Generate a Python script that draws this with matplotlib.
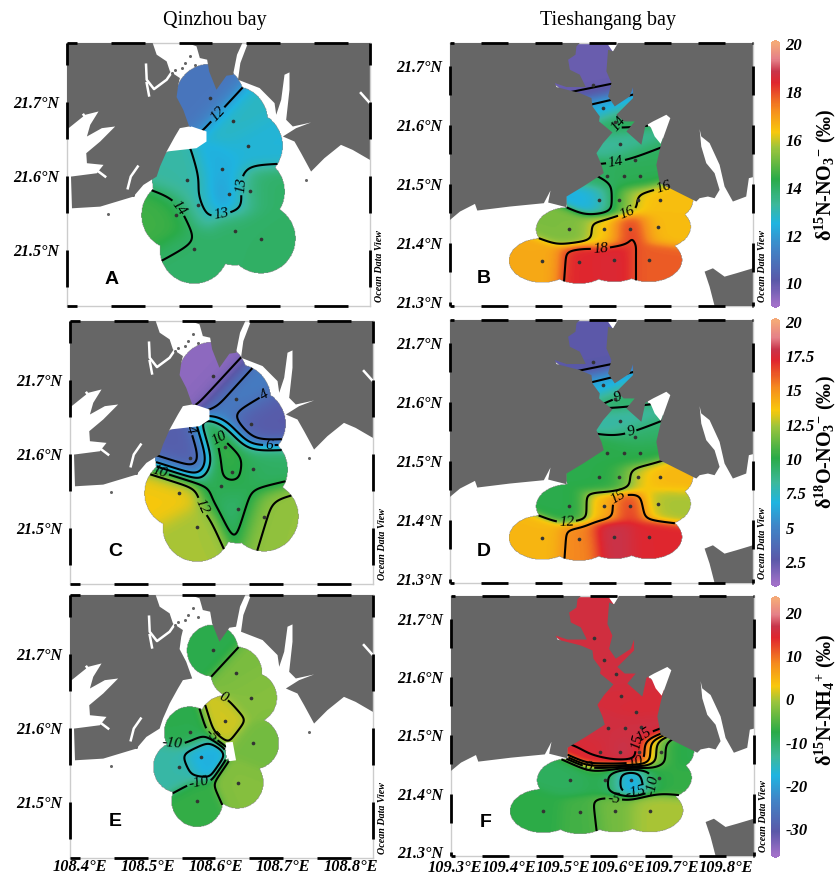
# -*- coding: utf-8 -*-
"""
Nitrate and ammonium isotope maps of Qinzhou bay and Tieshangang bay
Stations are in lon/lat, coastlines were digitised on a map grid and georeferenced below
"""

import matplotlib
matplotlib.use('Agg')
import matplotlib.pyplot as plt
from matplotlib.colors import LinearSegmentedColormap, Normalize
from matplotlib.cm import ScalarMappable
from matplotlib.path import Path
import numpy as np

plt.rcParams['font.family'] = ['Liberation Serif', 'DejaVu Serif']
plt.rcParams['mathtext.default'] = 'regular'

W, H = 837, 876

# ---- stations
q_lon = [108.596, 108.631, 108.653, 108.614, 108.562, 108.625, 108.656, 108.578, 108.608, 108.546, 108.633, 108.672, 108.573]
q_lat = [21.705, 21.675, 21.641, 21.609, 21.594, 21.575, 21.579, 21.561, 21.556, 21.547, 21.526, 21.515, 21.501]
t_lon = [109.556, 109.575, 109.597, 109.607, 109.634, 109.582, 109.614, 109.644, 109.568, 109.605, 109.640, 109.680,
         109.513, 109.577, 109.625, 109.676, 109.463, 109.531, 109.596, 109.660]
t_lat = [21.667, 21.629, 21.605, 21.567, 21.540, 21.513, 21.513, 21.514, 21.472, 21.472, 21.472, 21.472,
         21.423, 21.423, 21.423, 21.427, 21.370, 21.368, 21.371, 21.371]

# ---- values per panel (nan = not sampled)
nan = np.nan
val_a = [11.0, 12.9, 12.6, 12.4, 13.2, 11.9, 13.97, 12.9, nan, 14.6, 13.97, 13.98, 13.97]
val_c = [1.4, 4.7, 2.8, 10.6, 3.0, 10.4, 9.5, nan, 9.7, 13.5, 9.2, 12.2, 12.5]
val_e = [-8.0, -2.5, -2.0, 1.5, -8.0, nan, -3.0, -18.0, nan, -14.0, -2.0, nan, -7.0]
val_b = [9.9, 12.2, 14.2, 13.3, 14.1, 14.0, 14.2, 14.2, 12.4, 14.8, 16.4, 16.5,
         15.3, 16.2, 18.3, 16.5, 16.8, 18.4, 18.5, 17.8]
val_d = [2.6, 6.2, 9.5, 8.0, 9.3, 10.0, 10.0, 10.0, 10.0, 10.2, 13.5, 14.0,
         10.0, 14.0, 17.0, 12.5, 14.0, 15.3, 18.0, 17.2]
val_f = [16.0, 16.0, 16.0, 15.5, 15.0, 16.0, 16.0, 16.5, 15.0, 17.0, 17.5, -8.0,
         -9.0, -8.0, -20.0, -7.0, -7.5, -6.0, -3.0, 0.0]

# ---- colour scale
cmap_pos = [0.0, 0.09, 0.22, 0.31, 0.385, 0.48, 0.6, 0.66, 0.75, 0.85, 0.895, 0.94, 1.0]
cmap_col = ['#a070c8', '#5a58a8', '#3f86c8', '#1fb4e0', '#3cb89a', '#2aab48', '#9cc43c',
            '#f8c80c', '#f58a1f', '#e0262e', '#c8344a', '#e58088', '#f4a878']
odv = LinearSegmentedColormap.from_list('odv', list(zip(cmap_pos, cmap_col)))

ticks_ab = [10, 12, 14, 16, 18, 20]
ticks_cd = [2.5, 5, 7.5, 10, 12.5, 15, 17.5, 20]
ticks_ef = [-30, -20, -10, 0, 10, 20]
labels_cd = ['2.5', '5', '7.5', '10', '12.5', '15', '17.5', '20']

# ---- coastlines on the digitising grid
q_west = [(200, 130), (458, 130), (470, 165), (500, 185), (510, 215), (540, 235), (535, 255), (530, 292), (550, 330),
          (568, 380), (540, 385), (525, 410), (500, 455), (480, 500), (470, 530), (430, 555), (400, 590), (350, 605),
          (300, 620), (215, 625), (212, 530), (290, 520), (310, 495), (260, 490), (258, 460), (300, 425), (345, 380),
          (305, 385), (260, 410), (270, 375), (295, 335), (255, 345), (205, 385), (200, 385)]
q_north = [(562, 130), (728, 130), (712, 165), (700, 225), (680, 228), (650, 270), (628, 215), (622, 180), (600, 175), (590, 140)]
q_east = [(745, 130), (1112, 130), (1112, 480), (1060, 450), (1025, 435), (975, 475), (935, 515), (905, 460), (885, 425),
          (850, 410), (890, 385), (935, 368), (880, 380), (860, 360), (870, 270), (870, 218), (855, 225), (845, 300),
          (830, 345), (825, 310), (780, 265), (715, 240), (722, 190)]
q_hole = [(575, 380), (620, 395), (620, 425), (590, 445), (500, 455), (530, 400)]
q_inlets = [[(438, 195), (440, 240), (462, 268), (500, 240), (522, 208)], [(440, 250), (447, 287)],
            [(383, 565), (392, 530), (413, 500)], [(250, 345), (262, 362)], [(1085, 280), (1112, 310)],
            [(295, 515), (315, 530)]]
q_islands = [(322, 643), (400, 586), (920, 540), (570, 170), (585, 195), (555, 190), (525, 210), (515, 220), (545, 205)]
q_hole_e = [(668, 572), (690, 570), (700, 625), (678, 628)]

t_west = [(150, 130), (540, 130), (530, 140), (527, 165), (505, 180), (510, 210), (540, 225), (558, 262), (500, 262),
          (465, 250), (470, 262), (540, 280), (575, 295), (578, 320), (600, 350), (598, 365), (638, 398), (610, 430),
          (590, 460), (605, 495), (612, 520), (550, 560), (500, 590), (500, 622), (445, 608), (452, 572), (432, 610),
          (330, 620), (232, 632), (225, 612), (180, 635), (150, 660)]
t_east = [(655, 130), (1060, 130), (1060, 532), (1048, 535), (1040, 590), (1000, 605), (975, 560), (960, 495), (930, 430),
          (905, 410), (900, 388), (905, 440), (920, 490), (945, 520), (960, 570), (945, 595), (925, 590), (900, 595),
          (890, 605), (780, 550), (770, 495), (785, 430), (812, 355), (800, 345), (760, 365), (737, 378), (725, 435),
          (680, 395), (705, 365), (672, 365), (650, 345), (700, 295), (700, 262), (690, 290), (645, 320), (625, 290),
          (635, 250), (620, 215), (625, 150), (640, 155)]
t_south = [(1060, 805), (1010, 820), (975, 830), (940, 805), (915, 815), (930, 860), (945, 918), (1060, 918)]
t_hole = [(748, 370), (800, 345), (812, 355), (783, 432), (765, 410)]
t_notch = [(620, 128), (658, 128), (640, 157)]
t_estuary = [(520, 125), (660, 125), (710, 255), (710, 300), (650, 400), (590, 450), (610, 530), (790, 540), (790, 400),
             (730, 370), (700, 365), (640, 400), (460, 250)]


def geo_q(pts):
    pts = np.asarray(pts, dtype=float)
    return np.column_stack([108.385 + (pts[:, 0] - 200) * 0.000491, 21.78 - (pts[:, 1] - 130) * 0.000452])


def geo_t(pts):
    pts = np.asarray(pts, dtype=float)
    return np.column_stack([109.293 + (pts[:, 0] - 150) * 0.000614, 21.739 - (pts[:, 1] - 130) * 0.000566])


Q_EXT = (108.385, 108.833, 21.424, 21.78)
T_EXT = (109.293, 109.852, 21.293, 21.739)


def px_axes(fig, x0, y0, x1, y1):
    return fig.add_axes([x0 / W, 1 - y1 / H, (x1 - x0) / W, (y1 - y0) / H])


def draw_field(ax, lon, lat, val, ext, rx, ry, norm, levels, extra=None):
    lon, lat, val = np.array(lon), np.array(lat), np.array(val)
    ok = ~np.isnan(val)
    lon, lat, val = lon[ok], lat[ok], val[ok]
    gx, gy = np.meshgrid(np.linspace(ext[0], ext[1], 420), np.linspace(ext[2], ext[3], 420))
    d2 = ((gx[..., None] - lon) / rx) ** 2 + ((gy[..., None] - lat) / ry) ** 2
    w = np.exp(-(d2 - d2.min(axis=2, keepdims=True)) / 0.3)
    z = (w * val).sum(axis=2) / w.sum(axis=2)
    mask = d2.min(axis=2) <= 1.0
    if extra is not None:
        inside = Path(extra).contains_points(np.column_stack([gx.ravel(), gy.ravel()]))
        mask |= inside.reshape(gx.shape)
    zm = np.ma.masked_where(~mask, z)
    ax.imshow(zm, extent=ext, origin='lower', aspect='auto', cmap=odv, norm=norm, interpolation='bilinear', zorder=1)
    cs = ax.contour(gx, gy, zm, levels=levels, colors='k', linewidths=1.5, negative_linestyles='solid', zorder=2)
    ax.scatter(lon, lat, s=7, c='#333333', linewidths=0, zorder=4)
    return cs


def add_labels(ax, cs, pts):
    txt = ax.clabel(cs, fmt='%g', manual=[tuple(p) for p in pts], fontsize=11, inline=True, inline_spacing=2)
    for t in txt:
        t.set_style('italic')
        t.set_zorder(6)


def draw_land(ax, polys, holes, geo):
    for h in holes:
        ax.fill(*geo(h).T, color='white', lw=0, zorder=2.5)
    for p in polys:
        ax.fill(*geo(p).T, color='#666666', lw=0, zorder=3)


def frame(ax, ext, xstart, ylist):
    # odv style frame, black dashes every other 0.05 degree
    x0, x1, y0, y1 = ext
    ax.set_xlim(x0, x1)
    ax.set_ylim(y0, y1)
    for s in ax.spines.values():
        s.set_color('#cccccc')
        s.set_linewidth(1)
    for a in np.arange(xstart, x1, 0.1):
        seg = [max(a, x0), min(a + 0.05, x1)]
        for y in (y0, y1):
            ax.plot(seg, [y, y], color='k', lw=2, clip_on=False, solid_capstyle='butt', zorder=10)
    for b in ylist:
        seg = [max(b - 0.05, y0), min(b, y1)]
        for x in (x0, x1):
            ax.plot([x, x], seg, color='k', lw=2, clip_on=False, solid_capstyle='butt', zorder=10)


def axis_text(ax, letter, lx, ly, odv_x, odv_y):
    ax.text(lx, ly, letter, transform=ax.transAxes, family='Liberation Sans', weight='bold', fontsize=14,
            ha='center', va='center', zorder=12)
    ax.text(odv_x, odv_y, 'Ocean Data View', transform=ax.transAxes, rotation=90, style='italic', weight='bold',
            fontsize=7.2, ha='center', va='bottom', clip_on=False)


def set_ticks(ax, lats, lons=None, xpad=1):
    ax.set_yticks(lats)
    ax.set_yticklabels(['{:.1f}°N'.format(v) for v in lats], style='italic', weight='bold', fontsize=11.5)
    if lons is None:
        ax.set_xticks([])
    else:
        ax.set_xticks(lons)
        ax.set_xticklabels(['{:.1f}°E'.format(v) for v in lons], style='italic', weight='bold', fontsize=11.8)
    ax.tick_params(axis='y', length=0, pad=6)
    ax.tick_params(axis='x', length=0, pad=xpad)


def colour_bar(fig, norm, y0, y1, ticks, label, label_y, ticklabels=None):
    cax = px_axes(fig, 771, y0, 780, y1)
    cb = fig.colorbar(ScalarMappable(norm=norm, cmap=odv), cax=cax, extend='both', extendfrac=0.012)
    cb.set_ticks(ticks)
    cb.set_ticklabels(ticklabels if ticklabels else [str(t) for t in ticks])
    cb.outline.set_visible(False)
    cax.tick_params(length=0, pad=4)
    for t in cax.get_yticklabels():
        t.set_style('italic')
        t.set_weight('bold')
        t.set_fontsize(12)
    fig.text(825 / W, 1 - label_y / H, label, rotation=90, weight='bold', fontsize=14.5, ha='center', va='center')


fig = plt.figure(figsize=(W / 100, H / 100), dpi=100)

norm_ab = Normalize(9.1, 20.05)
norm_cd = Normalize(0.9, 20.05)
norm_ef = Normalize(-36.0, 23.2)

q_lats = [21.5, 21.6, 21.7]
t_lats = [21.3, 21.4, 21.5, 21.6, 21.7]
q_lons = [108.4, 108.5, 108.6, 108.7, 108.8]
t_lons = [109.3, 109.4, 109.5, 109.6, 109.7, 109.8]
q_land = [q_west, q_north, q_east]
t_land = [t_west, t_east, t_south]

# ---- left column
panels_q = [
    ('A', (67, 43, 370, 306), val_a, norm_ab, [12, 13, 14], 0.051, 0.047, [q_hole],
     [(650, 340), (680, 555), (660, 615), (525, 632)], 0.1),
    ('C', (70, 321, 373, 584), val_c, norm_cd, [2, 4, 6, 8, 10, 12], 0.051, 0.047, [q_hole],
     [(645, 463), (800, 503), (473, 578), (605, 683), (548, 460), (795, 366)], 0.122),
    ('E', (70, 595, 373, 858), val_e, norm_ef, [-15, -10, -5, 0], 0.038, 0.035, [q_hole, q_hole_e],
     [(662, 435), (508, 570), (622, 552), (588, 685)], 0.137),
]
for letter, box, val, norm, levels, rx, ry, holes, lab, ly in panels_q:
    ax = px_axes(fig, *box)
    cs = draw_field(ax, q_lon, q_lat, val, Q_EXT, rx, ry, norm, levels)
    add_labels(ax, cs, geo_q(lab))
    draw_land(ax, q_land, holes, geo_q)
    for line in q_inlets:
        ax.plot(*geo_q(line).T, color='white', lw=1.8, zorder=3.5)
    ax.plot(*geo_q(q_islands).T, ls='none', marker='o', ms=2.2, color='#666666', mew=0, zorder=3.6)
    frame(ax, Q_EXT, 108.35, [21.5, 21.6, 21.7, 21.8])
    set_ticks(ax, q_lats, q_lons if letter == 'E' else None, xpad=1)
    axis_text(ax, letter, 0.148, ly, 1.03, 0.015)

# ---- right column
panels_t = [
    ('B', (450, 43, 753, 306), val_b, norm_ab, [10, 12, 14, 16, 18],
     [(650, 365), (650, 500), (790, 560), (695, 672), (603, 755)], 0.105),
    ('D', (450, 320, 753, 583), val_d, norm_cd, [3, 6, 9, 12, 15],
     [(655, 362), (698, 478), (500, 730), (655, 658)], 0.118),
    ('F', (451, 596, 754, 856), val_f, norm_ef, [-15, -10, -5, 0, 5, 10, 15],
     [(608, 327), (680, 477), (562, 649), (705, 627), (700, 709), (770, 702), (640, 737)], 0.13),
]
for letter, box, val, norm, levels, lab, ly in panels_t:
    ax = px_axes(fig, *box)
    cs = draw_field(ax, t_lon, t_lat, val, T_EXT, 0.0614, 0.0374, norm, levels, extra=geo_t(t_estuary))
    add_labels(ax, cs, geo_t(lab))
    draw_land(ax, t_land, [t_hole, t_notch], geo_t)
    frame(ax, T_EXT, 109.25, [21.3, 21.4, 21.5, 21.6, 21.7])
    set_ticks(ax, t_lats, t_lons if letter == 'F' else None, xpad=3)
    axis_text(ax, letter, 0.113, ly, 1.03, 0.015)

colour_bar(fig, norm_ab, 40, 308, ticks_ab, 'δ$^{15}$N-NO$_{3}$$^{-}$ (‰)', 175)
colour_bar(fig, norm_cd, 318, 587, ticks_cd, 'δ$^{18}$O-NO$_{3}$$^{-}$ (‰)', 442, labels_cd)
colour_bar(fig, norm_ef, 596, 858, ticks_ef, 'δ$^{15}$N-NH$_{4}$$^{+}$ (‰)', 700)

fig.text(215 / W, 1 - 20 / H, 'Qinzhou bay', fontsize=14.5, ha='center', va='center')
fig.text(608 / W, 1 - 20 / H, 'Tieshangang bay', fontsize=14.5, ha='center', va='center')

fig.savefig('out.png', dpi=100)
